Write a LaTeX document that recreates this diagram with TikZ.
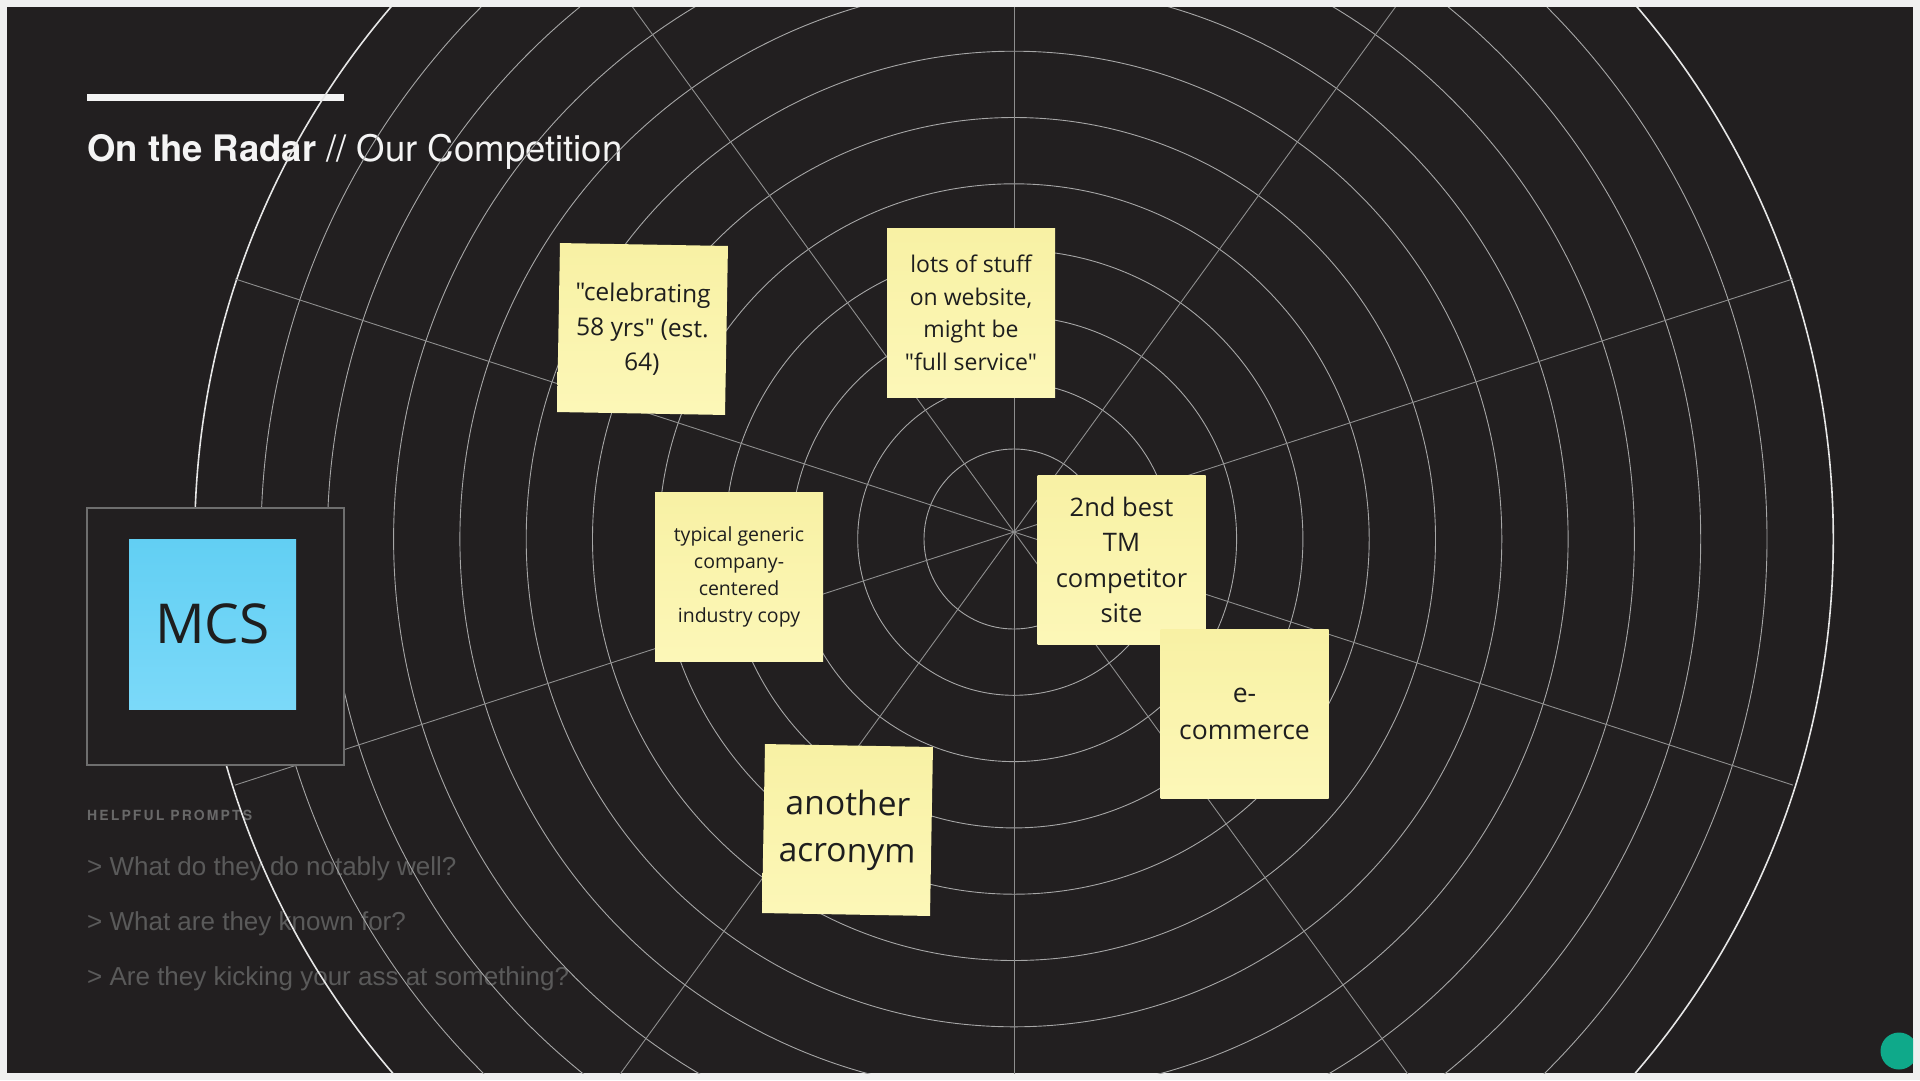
\documentclass[tikz,border=0pt]{standalone}
\usepackage{fontspec}
\setmainfont{TeX Gyre Heros}
\newfontfamily\osans{Open Sans}
\newfontfamily\lsans{Liberation Sans}
\definecolor{bgdark}{HTML}{221F20}
\definecolor{outerframe}{HTML}{F0F0F0}
\definecolor{titlewhite}{HTML}{F4F4F4}
\definecolor{promptgray}{HTML}{5A5A5A}
\definecolor{hpgray}{HTML}{686868}
\definecolor{ringgray}{HTML}{A6A6A6}
\definecolor{outerring}{HTML}{E6E6E6}
\definecolor{spokegray}{HTML}{8E8E8E}
\definecolor{boxgray}{HTML}{6E6E6E}
\definecolor{stickytop}{HTML}{F8F1A4}
\definecolor{stickybot}{HTML}{FCF7B8}
\definecolor{bluetop}{HTML}{62CFF3}
\definecolor{bluebot}{HTML}{7BD9F9}
\definecolor{inkdark}{HTML}{1E1E1E}
\definecolor{teal}{HTML}{0FA98A}
\tikzset{
  ring/.style={draw=ringgray, line width=0.9pt},
  outring/.style={draw=outerring, line width=1.6pt},
  spoke/.style={draw=spokegray, line width=0.9pt},
  sticky/.style={rectangle, inner sep=0pt, top color=stickytop, bottom color=stickybot,
    minimum width=168pt, minimum height=169pt, align=center, text=inkdark},
  bluesticky/.style={rectangle, inner sep=0pt, top color=bluetop, bottom color=bluebot,
    minimum width=167pt, minimum height=170pt, align=center, text=inkdark},
  prompt/.style={anchor=base west, inner sep=0pt, text=promptgray,
    font=\lsans\fontsize{26}{30}\selectfont},
}
\begin{document}
\begin{tikzpicture}[x=1pt,y=-1pt]
\useasboundingbox (0,0) rectangle (1920,1080);
\fill[outerframe] (0,0) rectangle (1920,1080);
\fill[bgdark] (7,7) rectangle (1913,1073);
\begin{scope}
\clip (7,7) rectangle (1913,1073);
% title
\fill[titlewhite] (87,94) rectangle (344,101);
\node[anchor=base west, inner sep=0pt, text=titlewhite] (title) at (87,161)
  {\fontsize{36.5}{40}\selectfont\bfseries On the Radar\mdseries{} // Our Competition};
% prompts
\node[anchor=base west, inner sep=0pt, text=hpgray,
  font=\fontsize{14}{16}\selectfont\bfseries\addfontfeatures{LetterSpace=15}] (hp) at (87,820) {HELPFUL PROMPTS};
\node[prompt] (p1) at (87,875) {> What do they do notably well?};
\node[prompt] (p2) at (87,930) {> What are they known for?};
\node[prompt] (p3) at (87,985) {> Are they kicking your ass at something?};
% radar rings
\foreach \r in {90,156.3,222.6,288.9,355.2,421.5,487.8,554.1,620.4,686.7,753}
  \draw[ring] (1014,539) circle[radius=\r pt];
\draw[outring] (1014,539) circle[radius=819.3pt];
% spokes
\foreach \a in {18,54,90,126,162}
  \draw[spoke] (1014,532) ++(\a:819) -- ++(\a+180:1638);
% MCS box
\draw[boxgray, line width=1.2pt, fill=bgdark] (87,508) rectangle (344,765);
\node[bluesticky, font={\osans\fontsize{55}{60}\selectfont}] (mcs) at (212.5,624) {MCS};
% stickies
\node[sticky, rotate=-1, font={\osans\fontsize{24.5}{34.6}\selectfont}] (s1) at (642.5,329)
  {"celebrating\\58 yrs" (est.\\64)};
\node[sticky, font={\osans\fontsize{23}{32.5}\selectfont}] (s2) at (971,313)
  {lots of stuff\\on website,\\might be\\"full service"};
\node[sticky, font={\osans\fontsize{19.5}{27}\selectfont}] (s3) at (739,576.5)
  {typical generic\\company-\\centered\\industry copy};
\node[sticky, font={\osans\fontsize{25.5}{35.5}\selectfont}] (s4) at (1121.5,560)
  {2nd best\\TM\\competitor\\site};
\node[sticky, font={\osans\fontsize{26.5}{36.5}\selectfont}] (s5) at (1244.5,714)
  {e-\\commerce};
\node[sticky, rotate=-1, font={\osans\fontsize{33.6}{47}\selectfont}] (s6) at (847.5,830)
  {another\\acronym};
% green dot
\fill[teal] (1899,1051) circle[radius=18.5pt];
\end{scope}
\end{tikzpicture}
\end{document}
